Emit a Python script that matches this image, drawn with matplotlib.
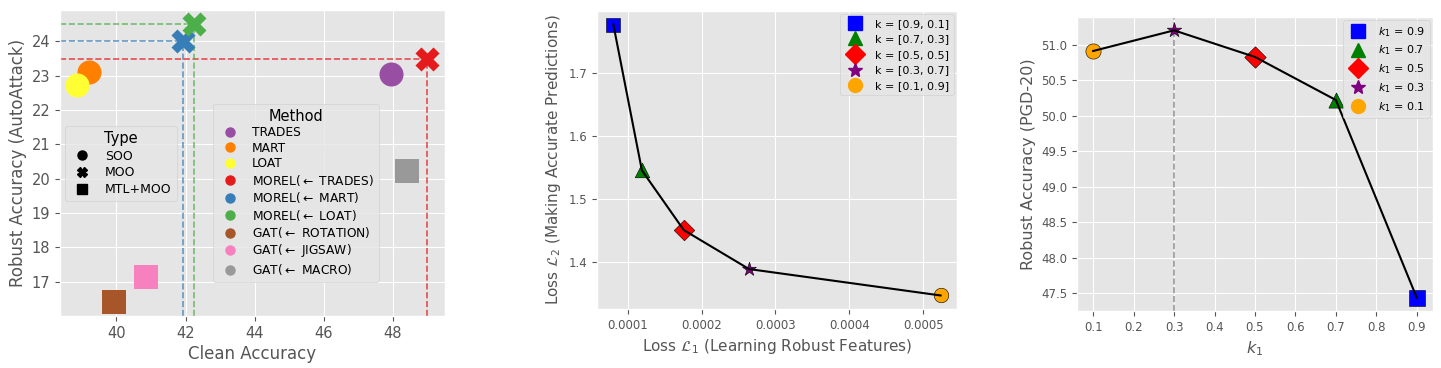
import numpy as np
import matplotlib
matplotlib.use("Agg")
import matplotlib.pyplot as plt
from matplotlib.lines import Line2D

plt.style.use("ggplot")

# panel 1: clean vs robust accuracy
methods = ["TRADES", "MART", "LOAT",
           r"MOREL($\leftarrow$ TRADES)", r"MOREL($\leftarrow$ MART)", r"MOREL($\leftarrow$ LOAT)",
           r"GAT($\leftarrow$ ROTATION)", r"GAT($\leftarrow$ JIGSAW)", r"GAT($\leftarrow$ MACRO)"]
types = ["SOO", "SOO", "SOO", "MOO", "MOO", "MOO", "MTL+MOO", "MTL+MOO", "MTL+MOO"]
clean_acc = [47.95, 39.2, 38.87, 49.0, 41.92, 42.25, 39.92, 40.85, 48.4]
robust_acc = [23.06, 23.1, 22.74, 23.49, 24.01, 24.51, 16.41, 17.15, 20.23]
set1 = ["#984ea3", "#ff7f00", "#ffff33", "#e41a1c", "#377eb8", "#4daf4a",
        "#a65628", "#f781bf", "#999999"]
type_markers = {"SOO": "o", "MOO": "X", "MTL+MOO": "s"}

# panel 2: loss trade-off
k_labels = ["k = [0.9, 0.1]", "k = [0.7, 0.3]", "k = [0.5, 0.5]",
            "k = [0.3, 0.7]", "k = [0.1, 0.9]"]
loss1 = [0.0000807, 0.0001193, 0.000176, 0.0002643, 0.0005235]
loss2 = [1.777, 1.545, 1.45, 1.388, 1.346]

# panel 3: k1 sweep
k1 = [0.9, 0.7, 0.5, 0.3, 0.1]
pgd_acc = [47.44, 50.22, 50.826, 51.2, 50.91]

pt_colors = ["blue", "green", "red", "purple", "orange"]
pt_markers = ["s", "^", "D", "*", "o"]

fig = plt.figure(figsize=(14.41, 3.68), dpi=100)
ax1 = fig.add_axes([0.0416, 0.1413, 0.2672, 0.8315])
ax2 = fig.add_axes([0.4143, 0.1603, 0.2498, 0.8098])
ax3 = fig.add_axes([0.7474, 0.1549, 0.2470, 0.7989])

# ---- panel 1
for i in range(len(methods)):
    ax1.scatter(clean_acc[i], robust_acc[i], s=300, c=set1[i],
                marker=type_markers[types[i]], linewidths=0, zorder=3)
xl = ax1.get_xlim()
yl = ax1.get_ylim()
for i in range(3, 6):
    ax1.hlines(robust_acc[i], xl[0], clean_acc[i], colors=set1[i],
               linestyles="--", lw=1.2, alpha=0.75, zorder=2)
    ax1.vlines(clean_acc[i], yl[0], robust_acc[i], colors=set1[i],
               linestyles="--", lw=1.2, alpha=0.75, zorder=2)
ax1.set_xlim(xl)
ax1.set_ylim(yl)
ax1.set_xticks([40, 42, 44, 46, 48])
ax1.set_yticks(range(17, 25))
ax1.tick_params(labelsize=10.5)
ax1.set_xlabel("Clean Accuracy", fontsize=12, labelpad=3)
ax1.set_ylabel("Robust Accuracy (AutoAttack)", fontsize=12, labelpad=3)

type_handles = [Line2D([], [], ls="", marker=type_markers[t], color="k", markersize=6.5)
                for t in ["SOO", "MOO", "MTL+MOO"]]
leg_t = ax1.legend(type_handles, ["SOO", "MOO", "MTL+MOO"], title="Type",
                   loc="upper left", bbox_to_anchor=(0.013, 0.621),
                   fontsize=9, title_fontsize=10.5, handletextpad=0.8,
                   labelspacing=0.3, borderaxespad=0)
ax1.add_artist(leg_t)
meth_handles = [Line2D([], [], ls="", marker="o", color=c, markersize=6.5) for c in set1]
ax1.legend(meth_handles, methods, title="Method", loc="upper left",
           bbox_to_anchor=(0.397, 0.693), fontsize=8.8, title_fontsize=10.5,
           handletextpad=0.8, labelspacing=0.2, borderaxespad=0)

# ---- panel 2
for i in range(5):
    ax2.scatter(loss1[i], loss2[i], s=110, c=pt_colors[i], marker=pt_markers[i],
                edgecolors="k", linewidths=0.4, zorder=2)
ax2.plot(loss1, loss2, color="black", lw=1.5, zorder=3)
ax2.tick_params(labelsize=8.5)
ax2.set_xlabel(r"Loss $\mathcal{L}_1$ (Learning Robust Features)", fontsize=11)
ax2.set_ylabel(r"Loss $\mathcal{L}_2$ (Making Accurate Predictions)", fontsize=11)
h2 = [Line2D([], [], ls="", marker=pt_markers[i], color=pt_colors[i], markersize=10)
      for i in range(5)]
ax2.legend(h2, k_labels, loc="upper right", fontsize=8, labelspacing=0.5,
           handletextpad=0.8, borderaxespad=0.3)

# ---- panel 3
ax3.axvline(0.3, color="#999999", ls="--", lw=1.2, zorder=1)
for i in range(5):
    ax3.scatter(k1[i], pgd_acc[i], s=120, c=pt_colors[i], marker=pt_markers[i],
                edgecolors="k", linewidths=0.4, zorder=2)
ax3.plot(k1, pgd_acc, color="black", lw=1.5, zorder=3)
ax3.set_xticks([0.1, 0.2, 0.3, 0.4, 0.5, 0.6, 0.7, 0.8, 0.9])
ax3.tick_params(labelsize=8.5)
ax3.set_xlabel(r"$k_1$", fontsize=11.5)
ax3.set_ylabel("Robust Accuracy (PGD-20)", fontsize=11.5)
h3 = [Line2D([], [], ls="", marker=pt_markers[i], color=pt_colors[i], markersize=10)
      for i in range(5)]
ax3.legend(h3, [r"$k_1$ = %.1f" % v for v in k1], loc="upper right", fontsize=8,
           labelspacing=0.45, handletextpad=0.8, borderaxespad=0.3)

fig.savefig("out.png", dpi=100)
